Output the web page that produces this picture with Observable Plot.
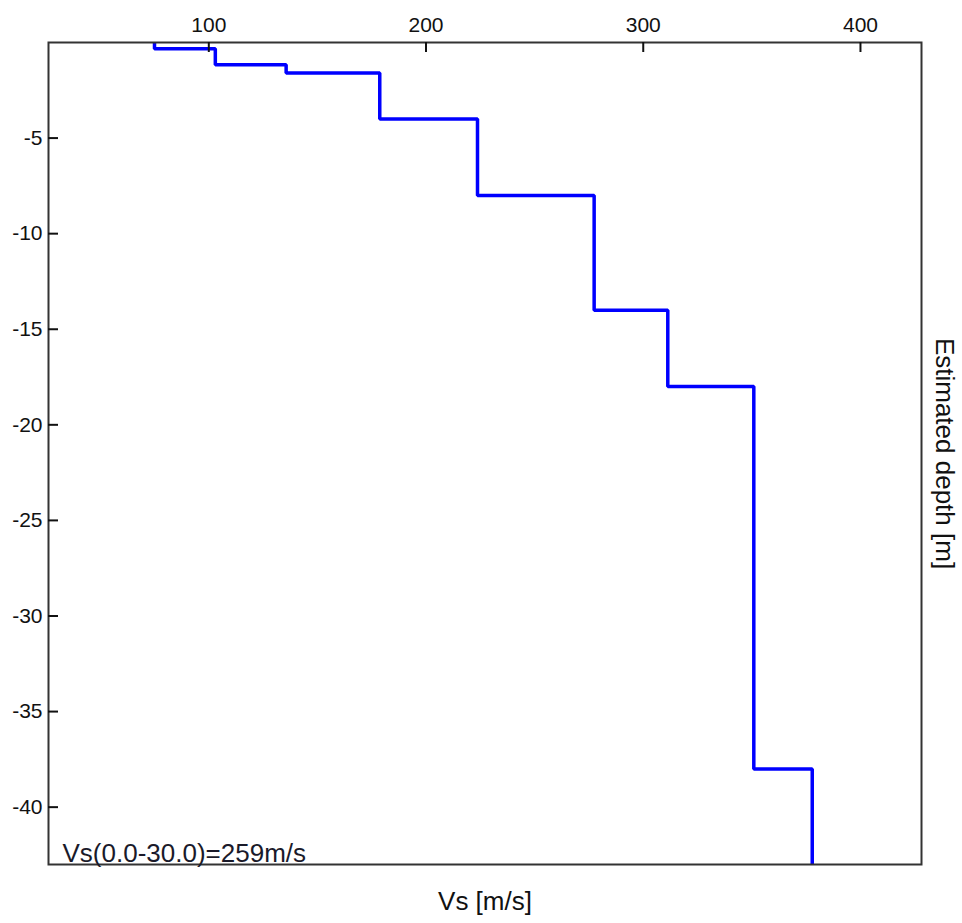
<!DOCTYPE html>
<html>
<head>
<meta charset="utf-8">
<script src="https://cdn.jsdelivr.net/npm/d3@7"></script>
<script src="https://cdn.jsdelivr.net/npm/@observablehq/plot@0.6"></script>
<style>
  html, body { margin: 0; padding: 0; background: #fff; }
  #chart { width: 962px; height: 923px; }
</style>
</head>
<body>
<div id="chart"></div>
<script>
// Layer shear-wave velocities (m/s), top to bottom
const layerVs = [75, 103, 135.6, 178.7, 223.7, 277.4, 311.3, 350.9, 377.8];
// Depth of the top of each layer (m)
const layerTop = [0, -0.33, -1.16, -1.59, -4, -8, -14, -18, -38];
// Plot extents
const depthDomain = [-43, 0];
const vsDomain = [26.2, 428.1];
// Tick labels
const xTicks = [100, 200, 300, 400];
const yTicks = [-5, -10, -15, -20, -25, -30, -35, -40];
// Texts
const xLabel = "Vs [m/s]";
const yLabel = "Estimated depth [m]";
const note = "Vs(0.0-30.0)=259m/s";

const profile = layerVs.map((v, i) => ({vs: v, depth: layerTop[i]}));
profile.push({vs: layerVs[layerVs.length - 1], depth: depthDomain[0]});

const W = 962, H = 923;
const mL = 48, mT = 42, mR = 41, mB = 59;
const frameW = W - mL - mR, frameH = H - mT - mB;
const tickLen = 10; // px, drawn inward
const tickLenY = tickLen * (depthDomain[1] - depthDomain[0]) / frameH;
const tickLenX = tickLen * (vsDomain[1] - vsDomain[0]) / frameW;

const chart = Plot.plot({
  width: W,
  height: H,
  marginLeft: mL,
  marginTop: mT,
  marginRight: mR,
  marginBottom: mB,
  style: {fontFamily: "'Liberation Sans', Arial, sans-serif", fontSize: "21px", background: "#fff", color: "#111"},
  x: {domain: vsDomain},
  y: {domain: depthDomain},
  marks: [
    Plot.line(profile, {x: "vs", y: "depth", curve: "step-before", stroke: "#0000ff", strokeWidth: 3.5, strokeLinejoin: "miter", strokeLinecap: "butt", clip: true}),
    Plot.frame({stroke: "#333", strokeWidth: 2}),
    Plot.ruleX(xTicks, {x: d => d, y1: depthDomain[1], y2: depthDomain[1] - tickLenY, stroke: "#111", strokeWidth: 2}),
    Plot.ruleY(yTicks, {y: d => d, x1: vsDomain[0], x2: vsDomain[0] + tickLenX, stroke: "#111", strokeWidth: 2}),
    Plot.axisX({ticks: xTicks, anchor: "top", tickSize: 0, tickPadding: 11, fontSize: 21, tickFormat: d => String(d), label: null}),
    Plot.axisY({ticks: yTicks, anchor: "left", tickSize: 0, tickPadding: 6, fontSize: 21, tickFormat: d => String(d), label: null}),
    Plot.text([note], {frameAnchor: "bottom-left", text: d => d, textAnchor: "start", lineAnchor: "bottom", dx: 14, dy: -3, fontSize: 26, fill: "#1a1a2a"}),
    Plot.text([xLabel], {frameAnchor: "bottom", text: d => d, textAnchor: "middle", lineAnchor: "top", dy: 27, fontSize: 26, fill: "#111"}),
    Plot.text([yLabel], {frameAnchor: "right", text: d => d, textAnchor: "middle", lineAnchor: "middle", rotate: 90, dx: 23, fontSize: 26, fill: "#111"})
  ]
});
document.getElementById("chart").appendChild(chart);
</script>
</body>
</html>
